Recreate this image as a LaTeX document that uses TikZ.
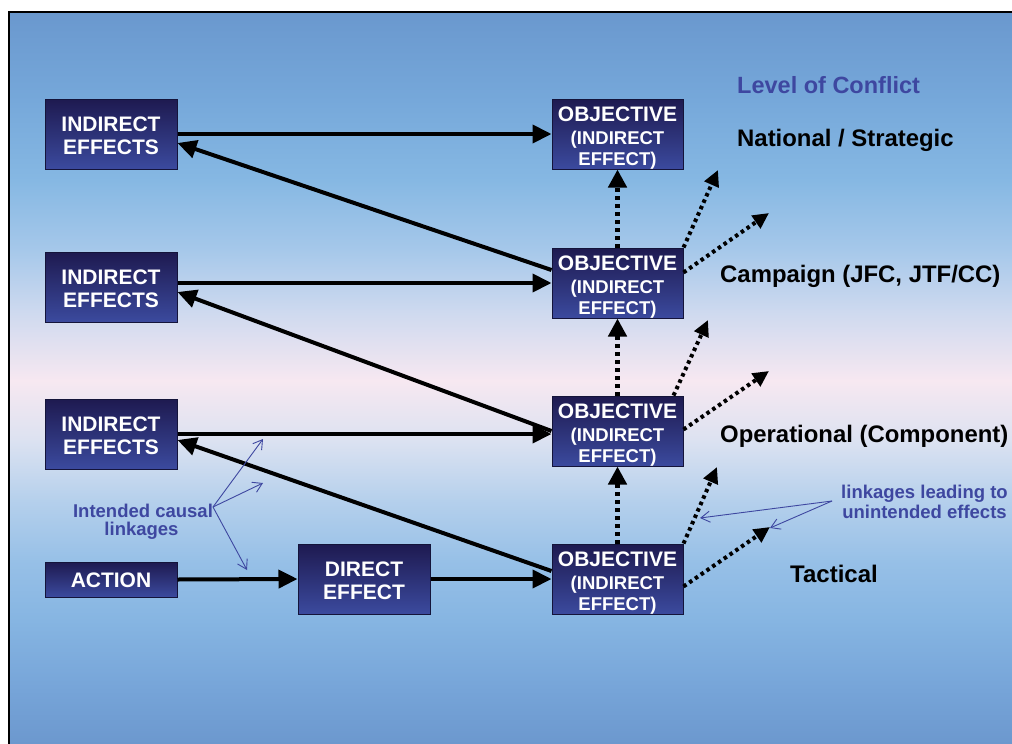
\documentclass[tikz,border=0pt]{standalone}
\usepackage{fontspec}
\setmainfont{Liberation Sans}
\usetikzlibrary{arrows.meta,calc}
\definecolor{bgA}{HTML}{6A98CE}
\definecolor{bgB}{HTML}{76A8DA}
\definecolor{bgC}{HTML}{86B8E3}
\definecolor{bgD}{HTML}{A6C8EA}
\definecolor{bgE}{HTML}{CDD9EF}
\definecolor{bgF}{HTML}{F7E8F1}
\definecolor{bgG}{HTML}{DCE2F1}
\definecolor{bgH}{HTML}{B5D0EC}
\definecolor{bgI}{HTML}{97C0E7}
\definecolor{bgJ}{HTML}{86B5E2}
\definecolor{bgK}{HTML}{76A4D8}
\definecolor{bgL}{HTML}{6C98CE}
\definecolor{boxtop}{HTML}{1E1A50}
\definecolor{boxmid}{HTML}{2B3492}
\definecolor{boxbot}{HTML}{3B4A9E}
\definecolor{boxline}{HTML}{14143A}
\definecolor{annot}{RGB}{62,71,160}
\begin{document}
\begin{tikzpicture}[x=1pt,y=-1pt,
  box/.style={draw=boxline, line width=1pt, top color=boxtop, middle color=boxmid, bottom color=boxbot,
    minimum width=132pt, minimum height=70pt, inner sep=0pt},
  wt/.style={text=white, font=\bfseries\fontsize{21}{21}\selectfont, inner sep=0pt, anchor=base},
  ws/.style={text=white, font=\bfseries\fontsize{18.5}{18.5}\selectfont, inner sep=0pt, anchor=base},
  solidarrow/.style={line width=4pt, -{Triangle[length=19pt,width=18pt]}},
  dotv/.style={line width=5pt, dash pattern=on 4pt off 4pt, -{Triangle[length=18pt,width=18pt]}},
  dotd/.style={line width=4pt, dash pattern=on 3.5pt off 3.5pt, -{Triangle[length=16pt,width=15pt]}},
  annoarrow/.style={draw=annot, line width=0.9pt, -{Straight Barb[length=9pt,width=11pt]}},
  annotext/.style={text=annot, inner sep=0pt, anchor=base},
  lvl/.style={text=black, inner sep=0pt, anchor=base west}
]
\useasboundingbox (0,0) rectangle (1012,744);
% background
\foreach \ya/\yb/\ca/\cb in {12/101/bgA/bgB, 100/181/bgB/bgC, 180/251/bgC/bgD, 250/311/bgD/bgE, 310/381/bgE/bgF, 380/441/bgF/bgG, 440/501/bgG/bgH, 500/561/bgH/bgI, 560/621/bgI/bgJ, 620/691/bgJ/bgK, 690/744/bgK/bgL}
  \fill[top color=\ca, bottom color=\cb] (10,\ya) rectangle (1012,\yb);
\draw[line width=2pt] (9.3,744) -- (9.3,12.3) -- (1012,12.3);

% left boxes
\node[box] (ie1) at (111,134) {};
\node[wt] (ie1a) at (111,131) {INDIRECT};
\node[wt] (ie1b) at (111,154) {EFFECTS};
\node[box] (ie2) at (111,287) {};
\node[wt] (ie2a) at (111,284) {INDIRECT};
\node[wt] (ie2b) at (111,307) {EFFECTS};
\node[box] (ie3) at (111,434) {};
\node[wt] (ie3a) at (111,431) {INDIRECT};
\node[wt] (ie3b) at (111,454) {EFFECTS};
\node[box, minimum height=35pt] (act) at (111,579.5) {};
\node[wt] (acta) at (111,587) {ACTION};
\node[box] (dir) at (364,579) {};
\node[wt] (dira) at (364,576) {DIRECT};
\node[wt] (dirb) at (364,599) {EFFECT};

% objective boxes
\node[box, minimum width=131pt] (o1) at (617.5,134) {};
\node[wt] (o1a) at (617.5,121.5) {OBJECTIVE};
\node[ws] (o1b) at (617.5,144) {(INDIRECT};
\node[ws] (o1c) at (617.5,165) {EFFECT)};
\node[box, minimum width=131pt] (o2) at (617.5,283) {};
\node[wt] (o2a) at (617.5,270.5) {OBJECTIVE};
\node[ws] (o2b) at (617.5,293) {(INDIRECT};
\node[ws] (o2c) at (617.5,314) {EFFECT)};
\node[box, minimum width=131pt] (o3) at (617.5,431) {};
\node[wt] (o3a) at (617.5,418.5) {OBJECTIVE};
\node[ws] (o3b) at (617.5,441) {(INDIRECT};
\node[ws] (o3c) at (617.5,462) {EFFECT)};
\node[box, minimum width=131pt] (o4) at (617.5,579) {};
\node[wt] (o4a) at (617.5,566.5) {OBJECTIVE};
\node[ws] (o4b) at (617.5,589) {(INDIRECT};
\node[ws] (o4c) at (617.5,610) {EFFECT)};

% solid arrows
\draw[solidarrow] (ie1.east) -- (o1.west);
\draw[solidarrow] ($(o2.west)+(0,-13)$) -- ($(ie1.east)+(0,9)$);
\draw[solidarrow] (ie2.east |- o2.west) -- (o2.west);
\draw[solidarrow] (o3.west) -- ($(ie2.east)+(0,5)$);
\draw[solidarrow] (ie3.east) -- (o3.west |- ie3.east);
\draw[solidarrow] ($(o4.west)+(0,-8)$) -- ($(ie3.east)+(0,6)$);
\draw[solidarrow] (act.east) -- (dir.west);
\draw[solidarrow] (dir.east) -- (o4.west);

% dotted vertical arrows
\draw[dotv] (o2.north) -- (o1.south);
\draw[dotv] (o3.north) -- (o2.south);
\draw[dotv] (o4.north) -- (o3.south);

% dotted diagonal arrows
\coordinate (t2a) at (718,170);
\coordinate (t2b) at (769,213);
\coordinate (t3a) at (708,320);
\coordinate (t3b) at (769,371);
\coordinate (t4a) at (717,467);
\coordinate (t4b) at (770,527);
\draw[dotd] (o2.north east) -- (t2a);
\draw[dotd] ($(o2.north east)+(0,25)$) -- (t2b);
\draw[dotd] ($(o3.north east)+(-10,0)$) -- (t3a);
\draw[dotd] ($(o3.north east)+(0,34)$) -- (t3b);
\draw[dotd] (o4.north east) -- (t4a);
\draw[dotd] ($(o4.north east)+(0,43)$) -- (t4b);

% level labels
\node[lvl, text=annot, font=\bfseries\fontsize{23.5}{23.5}\selectfont] (loc) at (737,93) {Level of Conflict};
\node[lvl, font=\bfseries\fontsize{23.9}{23.9}\selectfont] (nat) at (737,146) {National / Strategic};
\node[lvl, font=\bfseries\fontsize{23.9}{23.9}\selectfont] (cam) at (720,282) {Campaign (JFC, JTF/CC)};
\node[lvl, font=\bfseries\fontsize{23.9}{23.9}\selectfont] (ope) at (720,442) {Operational (Component)};
\node[lvl, font=\bfseries\fontsize{24}{24}\selectfont] (tac) at (790,582) {Tactical};

% annotations
\node[annotext, font=\bfseries\fontsize{18.5}{18.5}\selectfont] (ic1) at (143,517) {Intended causal};
\node[annotext, font=\bfseries\fontsize{18.5}{18.5}\selectfont] (ic2) at (141.5,535) {linkages};
\coordinate (icO) at (213,507);
\coordinate (icA) at (263,439);
\coordinate (icB) at (263,483);
\coordinate (icC) at (247,570);
\draw[annoarrow] (icO) -- (icA);
\draw[annoarrow] (icO) -- (icB);
\draw[annoarrow] (icO) -- (icC);

\node[annotext, font=\bfseries\fontsize{18.5}{18.5}\selectfont] (ul1) at (924.5,498) {linkages leading to};
\node[annotext, font=\bfseries\fontsize{18.5}{18.5}\selectfont] (ul2) at (924.5,518) {unintended effects};
\coordinate (ulO) at (832,501);
\coordinate (ulA) at (700,518);
\coordinate (ulB) at (770,528);
\draw[annoarrow] (ulO) -- (ulA);
\draw[annoarrow] (ulO) -- (ulB);
\end{tikzpicture}
\end{document}
